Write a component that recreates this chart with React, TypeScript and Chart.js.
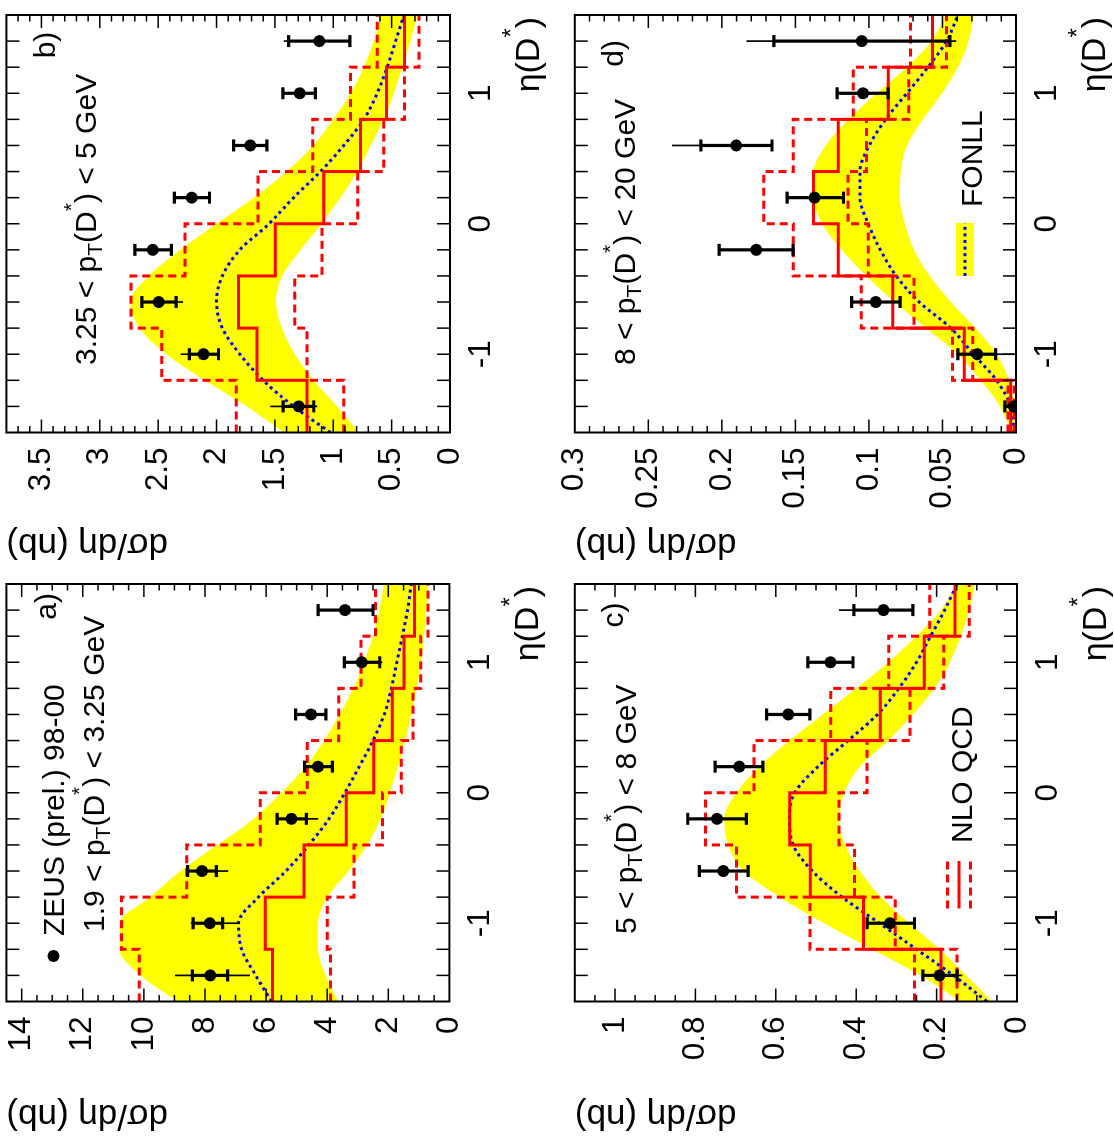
import React, { useEffect, useRef } from 'react';
import { Chart, registerables } from 'chart.js';

Chart.register(...registerables);

const FONT = '"Liberation Sans", Arial, Helvetica, sans-serif';

// ---------- binning ----------
const binEdges = [-1.6, -1.2, -0.8, -0.4, 0, 0.4, 0.8, 1.2, 1.6];
const etaCenters = [-1.4, -1.0, -0.6, -0.2, 0.2, 0.6, 1.0, 1.4];
const fonllEta = [-1.6, -1.4, -1.2, -1.0, -0.8, -0.6, -0.4, -0.2, 0, 0.2, 0.4, 0.6, 0.8, 1.0, 1.2, 1.4, 1.6];

// ---------- panel a: 1.9 < pT < 3.25 GeV ----------
const zeusA = [7.83, 7.84, 8.1, 5.17, 4.3, 4.53, 2.87, 3.42];
const statUpA = [8.41, 8.39, 8.57, 5.64, 4.74, 5.03, 3.44, 4.3];
const statLoA = [7.26, 7.42, 7.63, 4.68, 3.83, 4.04, 2.28, 2.5];
const totUpA = [8.98, 8.47, 8.58, 5.65, 4.74, 5.03, 3.44, 4.3];
const totLoA = [6.53, 6.85, 7.24, 4.29, 3.83, 4.04, 2.2, 2.5];
const nloA = [5.79, 6.03, 4.76, 3.38, 2.48, 1.87, 1.49, 1.14];
const nloUpA = [10.15, 10.73, 8.6, 6.19, 4.65, 3.62, 2.89, 2.42];
const nloLoA = [3.89, 4.0, 3.12, 2.19, 1.58, 1.19, 0.94, 0.7];
const fonllA = [5.82, 6.34, 6.8, 6.9, 6.25, 5.35, 4.6, 3.94, 3.42, 2.95, 2.5, 2.13, 1.9, 1.72, 1.54, 1.37, 1.25];
const fonllUpA = [8.9, 10.1, 10.8, 10.8, 9.8, 8.8, 7.6, 6.4, 5.5, 4.7, 4.1, 3.6, 3.15, 2.8, 2.5, 2.3, 2.15];
const fonllLoA = [3.65, 4.05, 4.3, 4.3, 4.0, 3.3, 2.7, 2.25, 1.95, 1.68, 1.45, 1.25, 1.08, 0.93, 0.83, 0.76, 0.7];

// ---------- panel b: 3.25 < pT < 5 GeV ----------
const zeusB = [1.296, 2.112, 2.494, 2.546, 2.212, 1.711, 1.288, 1.119];
const statUpB = [1.43, 2.232, 2.64, 2.7, 2.361, 1.854, 1.431, 1.382];
const statLoB = [1.167, 1.983, 2.346, 2.386, 2.06, 1.568, 1.153, 0.858];
const totUpB = [1.539, 2.306, 2.64, 2.7, 2.361, 1.854, 1.431, 1.425];
const totLoB = [1.138, 1.977, 2.288, 2.386, 2.06, 1.568, 1.153, 0.858];
const nloB = [1.225, 1.654, 1.811, 1.496, 1.082, 0.767, 0.544, 0.389];
const nloUpB = [1.831, 2.469, 2.732, 2.269, 1.645, 1.176, 0.853, 0.624];
const nloLoB = [0.91, 1.225, 1.33, 1.096, 0.79, 0.567, 0.389, 0.266];
const fonllB = [1.024, 1.34, 1.6, 1.8, 1.95, 2.0, 1.95, 1.8, 1.55, 1.34, 1.11, 0.91, 0.738, 0.624, 0.538, 0.466, 0.395];
const fonllUpB = [1.425, 1.74, 2.1, 2.43, 2.66, 2.74, 2.58, 2.31, 2.0, 1.68, 1.4, 1.17, 1.0, 0.853, 0.738, 0.652, 0.595];
const fonllLoB = [0.781, 0.967, 1.17, 1.33, 1.44, 1.49, 1.44, 1.28, 1.1, 0.94, 0.795, 0.68, 0.567, 0.481, 0.409, 0.338, 0.28];

// ---------- panel c: 5 < pT < 8 GeV ----------
const zeusC = [0.193, 0.316, 0.731, 0.746, 0.691, 0.569, 0.464, 0.332];
const statUpC = [0.234, 0.373, 0.79, 0.819, 0.751, 0.623, 0.52, 0.406];
const statLoC = [0.149, 0.255, 0.669, 0.673, 0.632, 0.515, 0.408, 0.259];
const totUpC = [0.234, 0.373, 0.79, 0.819, 0.751, 0.623, 0.52, 0.443];
const totLoC = [0.136, 0.255, 0.669, 0.673, 0.632, 0.515, 0.408, 0.259];
const nloC = [0.189, 0.382, 0.514, 0.565, 0.477, 0.34, 0.231, 0.154];
const nloUpC = [0.255, 0.515, 0.698, 0.775, 0.654, 0.463, 0.319, 0.217];
const nloLoC = [0.149, 0.303, 0.404, 0.443, 0.373, 0.266, 0.182, 0.119];
const fonllC = [0.075, 0.158, 0.25, 0.342, 0.435, 0.509, 0.557, 0.566, 0.553, 0.495, 0.42, 0.347, 0.294, 0.25, 0.215, 0.18, 0.149];
const fonllUpC = [0.14, 0.24, 0.36, 0.48, 0.59, 0.68, 0.718, 0.728, 0.698, 0.641, 0.566, 0.483, 0.4, 0.32, 0.25, 0.189, 0.149];
const fonllLoC = [0.061, 0.127, 0.193, 0.268, 0.338, 0.391, 0.428, 0.442, 0.43, 0.391, 0.32, 0.259, 0.206, 0.167, 0.14, 0.119, 0.105];

// ---------- panel d: 8 < pT < 20 GeV ----------
const zeusD = [0.0015, 0.0263, 0.0953, 0.1767, 0.137, 0.1903, 0.1041, 0.1049];
const statUpD = [0.0075, 0.0395, 0.1118, 0.2018, 0.1556, 0.2143, 0.1216, 0.1647];
const statLoD = [-0.004, 0.0139, 0.0788, 0.1516, 0.1173, 0.1659, 0.0869, 0.045];
const totUpD = [0.0075, 0.0407, 0.1118, 0.2018, 0.1556, 0.2339, 0.1216, 0.1832];
const totLoD = [-0.004, 0.0012, 0.0788, 0.1516, 0.1173, 0.1659, 0.0869, 0.0407];
const nloD = [0.0036, 0.0352, 0.0838, 0.1209, 0.1377, 0.1209, 0.0869, 0.0567];
const nloUpD = [0.0055, 0.0431, 0.1053, 0.1515, 0.1716, 0.1515, 0.1106, 0.0718];
const nloLoD = [0.0012, 0.0294, 0.0694, 0.1005, 0.1142, 0.1017, 0.073, 0.0472];
const fonllD = [0.0012, 0.0036, 0.0132, 0.029, 0.0443, 0.0658, 0.0814, 0.0922, 0.1005, 0.1061, 0.1061, 0.0998, 0.0886, 0.0742, 0.0599, 0.0472, 0.0395];
const fonllUpD = [0.0029, 0.0108, 0.024, 0.0395, 0.061, 0.0826, 0.1017, 0.1185, 0.1317, 0.1381, 0.1377, 0.1293, 0.1137, 0.0946, 0.0742, 0.0575, 0.0479];
const fonllLoD = [0.0002, 0.0012, 0.0048, 0.0132, 0.0275, 0.0443, 0.0587, 0.0694, 0.0754, 0.079, 0.0783, 0.0742, 0.0634, 0.0503, 0.0395, 0.0323, 0.0287];

// ---------- texts ----------
const yTitle = 'dσ/dη (nb)';
const zeusLabel = 'ZEUS (prel.) 98-00';
const nloLabel = 'NLO QCD';
const fonllLabel = 'FONLL';

const PW = 571;
const PH = 557;

type Seg = { t: string; mode?: 'sub' | 'sup' };

type Panel = {
  id: string;
  left: number;
  top: number;
  frame: { l: number; r: number; t: number; b: number };
  yMax: number;
  yStep: number;
  yMinor: number;
  data: number[];
  statUp: number[];
  statLo: number[];
  totUp: number[];
  totLo: number[];
  nlo: number[];
  nloUp: number[];
  nloLo: number[];
  fonll: number[];
  fonllUp: number[];
  fonllLo: number[];
  ptLo: string;
  ptHi: string;
  ptPos: { x: number; y: number };
  tag: string;
  tagPos: { x: number; y: number };
  extra: 'zeus' | 'nlo' | 'fonll' | null;
};

const panels: Panel[] = [
  {
    id: 'a', left: 0, top: 0, frame: { l: 140.5, r: 558, t: 6.4, b: 449.4 },
    yMax: 14.5, yStep: 2, yMinor: 0.5,
    data: zeusA, statUp: statUpA, statLo: statLoA, totUp: totUpA, totLo: totLoA,
    nlo: nloA, nloUp: nloUpA, nloLo: nloLoA, fonll: fonllA, fonllUp: fonllUpA, fonllLo: fonllLoA,
    ptLo: '1.9', ptHi: '3.25', ptPos: { x: 210, y: 104 }, tag: 'a)', tagPos: { x: 549, y: 56 }, extra: 'zeus',
  },
  {
    id: 'b', left: 571, top: 0, frame: { l: 138.5, r: 556, t: 6.4, b: 450 },
    yMax: 3.8, yStep: 0.5, yMinor: 0.1,
    data: zeusB, statUp: statUpB, statLo: statLoB, totUp: totUpB, totLo: totLoB,
    nlo: nloB, nloUp: nloUpB, nloLo: nloLoB, fonll: fonllB, fonllUp: fonllUpB, fonllLo: fonllLoB,
    ptLo: '3.25', ptHi: '5', ptPos: { x: 206, y: 96 }, tag: 'b)', tagPos: { x: 539.3, y: 55 }, extra: null,
  },
  {
    id: 'c', left: 0, top: 557, frame: { l: 140.5, r: 558, t: 17.8, b: 460 },
    yMax: 1.1, yStep: 0.2, yMinor: 0.05,
    data: zeusC, statUp: statUpC, statLo: statLoC, totUp: totUpC, totLo: totLoC,
    nlo: nloC, nloUp: nloUpC, nloLo: nloLoC, fonll: fonllC, fonllUp: fonllUpC, fonllLo: fonllLoC,
    ptLo: '5', ptHi: '8', ptPos: { x: 208, y: 79 }, tag: 'c)', tagPos: { x: 539.4, y: 66 }, extra: 'nlo',
  },
  {
    id: 'd', left: 571, top: 557, frame: { l: 138.5, r: 556, t: 17.8, b: 459 },
    yMax: 0.3, yStep: 0.05, yMinor: 0.01,
    data: zeusD, statUp: statUpD, statLo: statLoD, totUp: totUpD, totLo: totLoD,
    nlo: nloD, nloUp: nloUpD, nloLo: nloLoD, fonll: fonllD, fonllUp: fonllUpD, fonllLo: fonllLoD,
    ptLo: '8', ptHi: '20', ptPos: { x: 206, y: 78 }, tag: 'd)', tagPos: { x: 531, y: 66 }, extra: 'fonll',
  },
];

const TXT = 30;
const TICK_FONT = 31.5;

function segFont(size: number, s: Seg) {
  return `${s.mode ? size * 0.7 : size}px ${FONT}`;
}
function richWidth(ctx: CanvasRenderingContext2D, segs: Seg[], size: number) {
  let w = 0;
  for (const s of segs) {
    ctx.font = segFont(size, s);
    w += ctx.measureText(s.t).width;
  }
  return w;
}
function drawRich(ctx: CanvasRenderingContext2D, x: number, y: number, segs: Seg[], size: number, align: 'left' | 'right' = 'left') {
  let cx = align === 'right' ? x - richWidth(ctx, segs, size) : x;
  ctx.textAlign = 'left';
  ctx.textBaseline = 'alphabetic';
  for (const s of segs) {
    ctx.font = segFont(size, s);
    const dy = s.mode === 'sub' ? size * 0.2 : s.mode === 'sup' ? -size * 0.6 : 0;
    ctx.fillText(s.t, cx, y + dy);
    cx += ctx.measureText(s.t).width;
  }
}
const ptSegs = (lo: string, hi: string): Seg[] => [
  { t: `${lo} < p` }, { t: 'T', mode: 'sub' }, { t: '(D' }, { t: '*', mode: 'sup' }, { t: `) < ${hi} GeV` },
];
const etaSegs: Seg[] = [{ t: 'η(D' }, { t: '*', mode: 'sup' }, { t: ')' }];

function line(ctx: CanvasRenderingContext2D, x1: number, y1: number, x2: number, y2: number) {
  ctx.beginPath();
  ctx.moveTo(x1, y1);
  ctx.lineTo(x2, y2);
  ctx.stroke();
}

const RED_DASH = [8, 5];
const BLUE_DOT = [3, 3.6];

function buildConfig(p: Panel): any {
  const pts = (xs: number[], ys: number[]) => xs.map((x, i) => ({ x, y: ys[i] }));
  const hist = (vals: number[]) => binEdges.map((e, i) => ({ x: e, y: vals[Math.min(i, vals.length - 1)] }));
  const fr = p.frame;

  const rootPlugin = {
    id: 'rootStyle' + p.id,
    beforeDatasetDraw(chart: any, args: any) {
      if (args.index !== 0) return;
      const { ctx, chartArea } = chart;
      const xs = chart.scales.x;
      const ys = chart.scales.y;
      ctx.save();
      ctx.beginPath();
      ctx.rect(chartArea.left, chartArea.top, chartArea.right - chartArea.left, chartArea.bottom - chartArea.top);
      ctx.clip();
      ctx.strokeStyle = '#000';
      ctx.lineCap = 'butt';
      etaCenters.forEach((eta, i) => {
        const x = xs.getPixelForValue(eta);
        ctx.lineWidth = 1.7;
        line(ctx, x, ys.getPixelForValue(p.totLo[i]), x, ys.getPixelForValue(p.totUp[i]));
        ctx.lineWidth = 3.2;
        const yl = ys.getPixelForValue(p.statLo[i]);
        const yu = ys.getPixelForValue(p.statUp[i]);
        line(ctx, x, yl, x, yu);
        line(ctx, x - 6, yl, x + 6, yl);
        line(ctx, x - 6, yu, x + 6, yu);
      });
      ctx.restore();
    },
    afterDraw(chart: any) {
      const { ctx, chartArea } = chart;
      const { left: l, right: r, top: t, bottom: b } = chartArea;
      const xs = chart.scales.x;
      const ys = chart.scales.y;
      ctx.save();
      // ticks
      ctx.strokeStyle = '#000';
      ctx.lineWidth = 1.5;
      for (let k = -7; k <= 7; k++) {
        const px = xs.getPixelForValue(k * 0.2);
        line(ctx, px, b, px, b - 13);
        line(ctx, px, t, px, t + 13);
      }
      const nMinor = Math.floor(p.yMax / p.yMinor + 1e-6);
      for (let k = 1; k <= nMinor; k++) {
        const v = k * p.yMinor;
        if (v >= p.yMax - 1e-9) break;
        const q = v / p.yStep;
        const major = Math.abs(q - Math.round(q)) < 1e-6;
        const len = major ? 13 : 6.5;
        const py = ys.getPixelForValue(v);
        line(ctx, l, py, l + len, py);
        line(ctx, r, py, r - len, py);
      }
      // frame
      ctx.lineWidth = 2;
      ctx.strokeRect(l, t, r - l, b - t);

      // texts
      ctx.fillStyle = '#000';
      drawRich(ctx, p.ptPos.x, p.ptPos.y, ptSegs(p.ptLo, p.ptHi), TXT);
      drawRich(ctx, p.tagPos.x, p.tagPos.y, [{ t: p.tag }], TXT, 'right');
      drawRich(ctx, r - 2, b + 89, etaSegs, 34, 'right');

      if (p.extra === 'zeus') {
        ctx.beginPath();
        ctx.arc(186, 53.5, 6, 0, Math.PI * 2);
        ctx.fill();
        drawRich(ctx, 206, 64, [{ t: zeusLabel }], TXT);
      }
      if (p.extra === 'nlo') {
        ctx.strokeStyle = '#ff0000';
        ctx.lineWidth = 3;
        ctx.setLineDash(RED_DASH);
        line(ctx, 233.5, 390.5, 281, 390.5);
        line(ctx, 233.5, 413.5, 281, 413.5);
        ctx.setLineDash([]);
        line(ctx, 233.5, 402, 281, 402);
        drawRich(ctx, 299, 414.5, [{ t: nloLabel }], TXT);
      }
      if (p.extra === 'fonll') {
        ctx.fillStyle = '#ffff00';
        ctx.fillRect(295, 399, 53, 18);
        ctx.strokeStyle = '#0000ff';
        ctx.lineWidth = 3;
        ctx.setLineDash(BLUE_DOT);
        line(ctx, 295, 408, 348, 408);
        ctx.setLineDash([]);
        ctx.fillStyle = '#000';
        drawRich(ctx, 364, 425, [{ t: fonllLabel }], TXT);
      }
      ctx.restore();
    },
  };

  return {
    type: 'line',
    data: {
      datasets: [
        {
          label: 'ZEUS', data: pts(etaCenters, p.data), showLine: false,
          pointRadius: 6, pointBackgroundColor: '#000', pointBorderColor: '#000', pointBorderWidth: 0,
          order: 0, clip: 0,
        },
        {
          label: 'NLO', data: hist(p.nlo), stepped: true, borderColor: '#ff0000', borderWidth: 3,
          pointRadius: 0, fill: false, order: 1,
        },
        {
          label: 'NLO up', data: hist(p.nloUp), stepped: true, borderColor: '#ff0000', borderWidth: 3,
          borderDash: RED_DASH, pointRadius: 0, fill: false, order: 2,
        },
        {
          label: 'NLO lo', data: hist(p.nloLo), stepped: true, borderColor: '#ff0000', borderWidth: 3,
          borderDash: RED_DASH, pointRadius: 0, fill: false, order: 2,
        },
        {
          label: 'FONLL', data: pts(fonllEta, p.fonll), borderColor: '#0000ff', borderWidth: 3,
          borderDash: BLUE_DOT, pointRadius: 0, fill: false, cubicInterpolationMode: 'monotone', order: 3,
        },
        {
          label: 'FONLL up', data: pts(fonllEta, p.fonllUp), borderColor: 'rgba(0,0,0,0)', borderWidth: 1,
          pointRadius: 0, fill: '+1', backgroundColor: '#ffff00', cubicInterpolationMode: 'monotone', order: 4,
        },
        {
          label: 'FONLL lo', data: pts(fonllEta, p.fonllLo), borderColor: 'rgba(0,0,0,0)', borderWidth: 1,
          pointRadius: 0, fill: false, cubicInterpolationMode: 'monotone', order: 5,
        },
      ],
    },
    options: {
      responsive: false,
      animation: false,
      devicePixelRatio: 1,
      events: [],
      layout: { padding: { left: 0, right: PW - fr.r, top: fr.t, bottom: 0 } },
      plugins: { legend: { display: false }, tooltip: { enabled: false }, title: { display: false } },
      scales: {
        x: {
          type: 'linear', min: -1.6, max: 1.6,
          grid: { display: false, drawTicks: false }, border: { display: false },
          ticks: {
            stepSize: 1, includeBounds: false, autoSkip: false, maxRotation: 0, padding: 12, color: '#000',
            font: { family: FONT, size: TICK_FONT },
            callback: (v: any) => {
              const n = Number(v);
              const rr = Math.round(n);
              return Math.abs(n - rr) < 1e-6 ? String(rr) : '';
            },
          },
          afterFit: (s: any) => { s.height = PH - fr.b; s.paddingLeft = 0; s.paddingRight = 0; },
        },
        y: {
          type: 'linear', min: 0, max: p.yMax,
          grid: { display: false, drawTicks: false }, border: { display: false },
          ticks: {
            stepSize: p.yStep, includeBounds: false, autoSkip: false, padding: 15, color: '#000',
            font: { family: FONT, size: TICK_FONT },
            callback: (v: any) => String(Math.round(Number(v) * 1000) / 1000),
          },
          title: {
            display: true, text: yTitle, align: 'end', color: '#000',
            font: { family: FONT, size: 35 }, padding: { top: 6.5, bottom: 0 },
          },
          afterFit: (s: any) => { s.width = fr.l; s.paddingTop = 0; s.paddingBottom = 0; },
        },
      },
    },
    plugins: [rootPlugin],
  };
}

function PanelChart({ p }: { p: Panel }) {
  const ref = useRef<HTMLCanvasElement>(null);
  useEffect(() => {
    if (!ref.current) return;
    const chart = new Chart(ref.current, buildConfig(p));
    return () => chart.destroy();
  }, [p]);
  return (
    <canvas
      ref={ref}
      width={PW}
      height={PH}
      style={{ position: 'absolute', left: p.left, top: p.top, width: PW, height: PH }}
    />
  );
}

export default function App() {
  useEffect(() => {
    document.body.style.overflow = 'hidden';
  }, []);
  return (
    <div
      style={{
        position: 'absolute', left: 0, top: 0, width: 1142, height: 1114, background: '#fff',
        transformOrigin: '0 0', transform: 'translateY(1142px) rotate(-90deg)',
      }}
    >
      {panels.map((p) => (
        <PanelChart key={p.id} p={p} />
      ))}
    </div>
  );
}
